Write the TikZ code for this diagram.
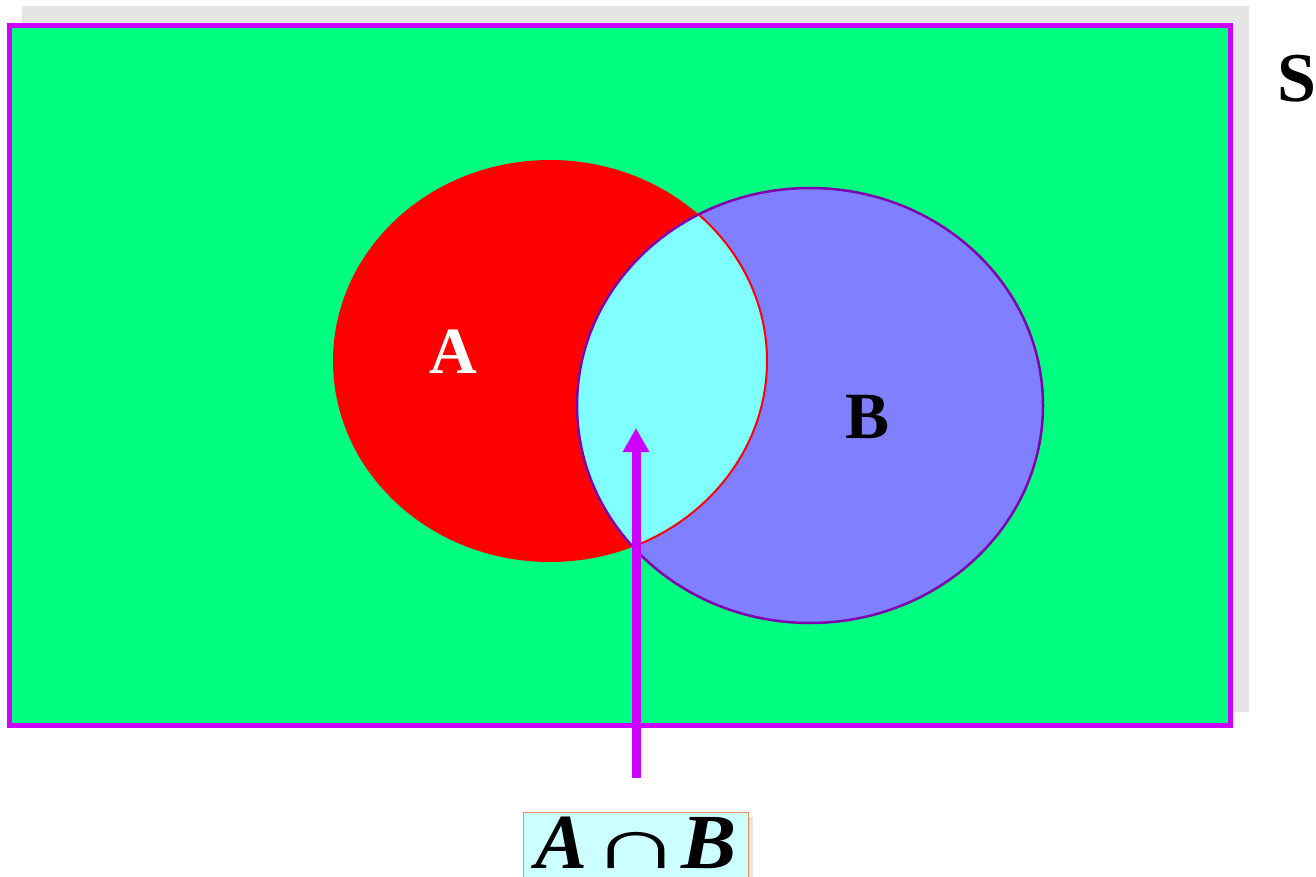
\documentclass[tikz,border=0pt]{standalone}
\usepackage{fontspec}
\setmainfont{Liberation Serif}
\usetikzlibrary{arrows.meta}
\definecolor{bggreen}{RGB}{0,255,128}
\definecolor{setred}{RGB}{255,0,0}
\definecolor{setblue}{RGB}{128,128,255}
\definecolor{setcyan}{RGB}{128,255,255}
\definecolor{framepurple}{RGB}{204,0,255}
\definecolor{bline}{RGB}{128,0,176}
\definecolor{shadowgray}{RGB}{229,229,229}
\definecolor{boxcyan}{RGB}{204,255,255}
\definecolor{boxorange}{RGB}{240,144,96}
\tikzset{
  biglabel/.style={font=\fontsize{66}{66}\selectfont\bfseries, inner sep=0pt},
  pointer/.style={draw=framepurple, line width=9pt, -{Triangle[width=25pt,length=24pt]}},
}
\begin{document}
\begin{tikzpicture}[x=1pt,y=-1pt]
\useasboundingbox (0,0) rectangle (1316,877);
% shadow of universe
\fill[shadowgray] (22,6) rectangle (1249,712);
% universe
\draw[framepurple, line width=5pt, fill=bggreen] (9.5,25.5) rectangle (1230.5,725.5);
% sets
\fill[setred] (550,361) ellipse [x radius=217, y radius=201];
\fill[setblue] (810,405.5) ellipse [x radius=233, y radius=217.5];
\begin{scope}
  \clip (550,361) ellipse [x radius=217, y radius=201];
  \fill[setcyan] (810,405.5) ellipse [x radius=233, y radius=217.5];
\end{scope}
\draw[bline, line width=2.5pt] (810,405.5) ellipse [x radius=233, y radius=217.5];
\begin{scope}
  \clip (810,405.5) ellipse [x radius=233, y radius=217.5];
  \draw[setred, line width=2pt] (550,361) ellipse [x radius=217, y radius=201];
\end{scope}
% labels
\node[biglabel, text=white] (la) at (453,352) {A};
\node[biglabel, text=black] (lb) at (867,417) {B};
\node[biglabel, font=\fontsize{70}{70}\selectfont\bfseries] (ls) at (1297,79) {S};
% label box
\fill[shadowgray] (529,817) rectangle (753,880);
\node[draw=boxorange, line width=1pt, fill=boxcyan, minimum width=225pt, minimum height=65pt, inner sep=0pt, anchor=north west] (box) at (523,811.5) {};
\node[anchor=base west, inner sep=0pt, text depth=0pt, font=\fontsize{78}{78}\selectfont\bfseries\itshape] (boxtext) at (535,868)
  {A\hspace{3pt}\scalebox{1.63}[0.92]{\mdseries\upshape ∩}\hspace{-1pt}\scalebox{1.06}[1]{B}};
% arrow
\coordinate (tail) at (636,778);
\coordinate (tip) at (636,428);
\draw[pointer] (tail) -- (tip);
\end{tikzpicture}
\end{document}
